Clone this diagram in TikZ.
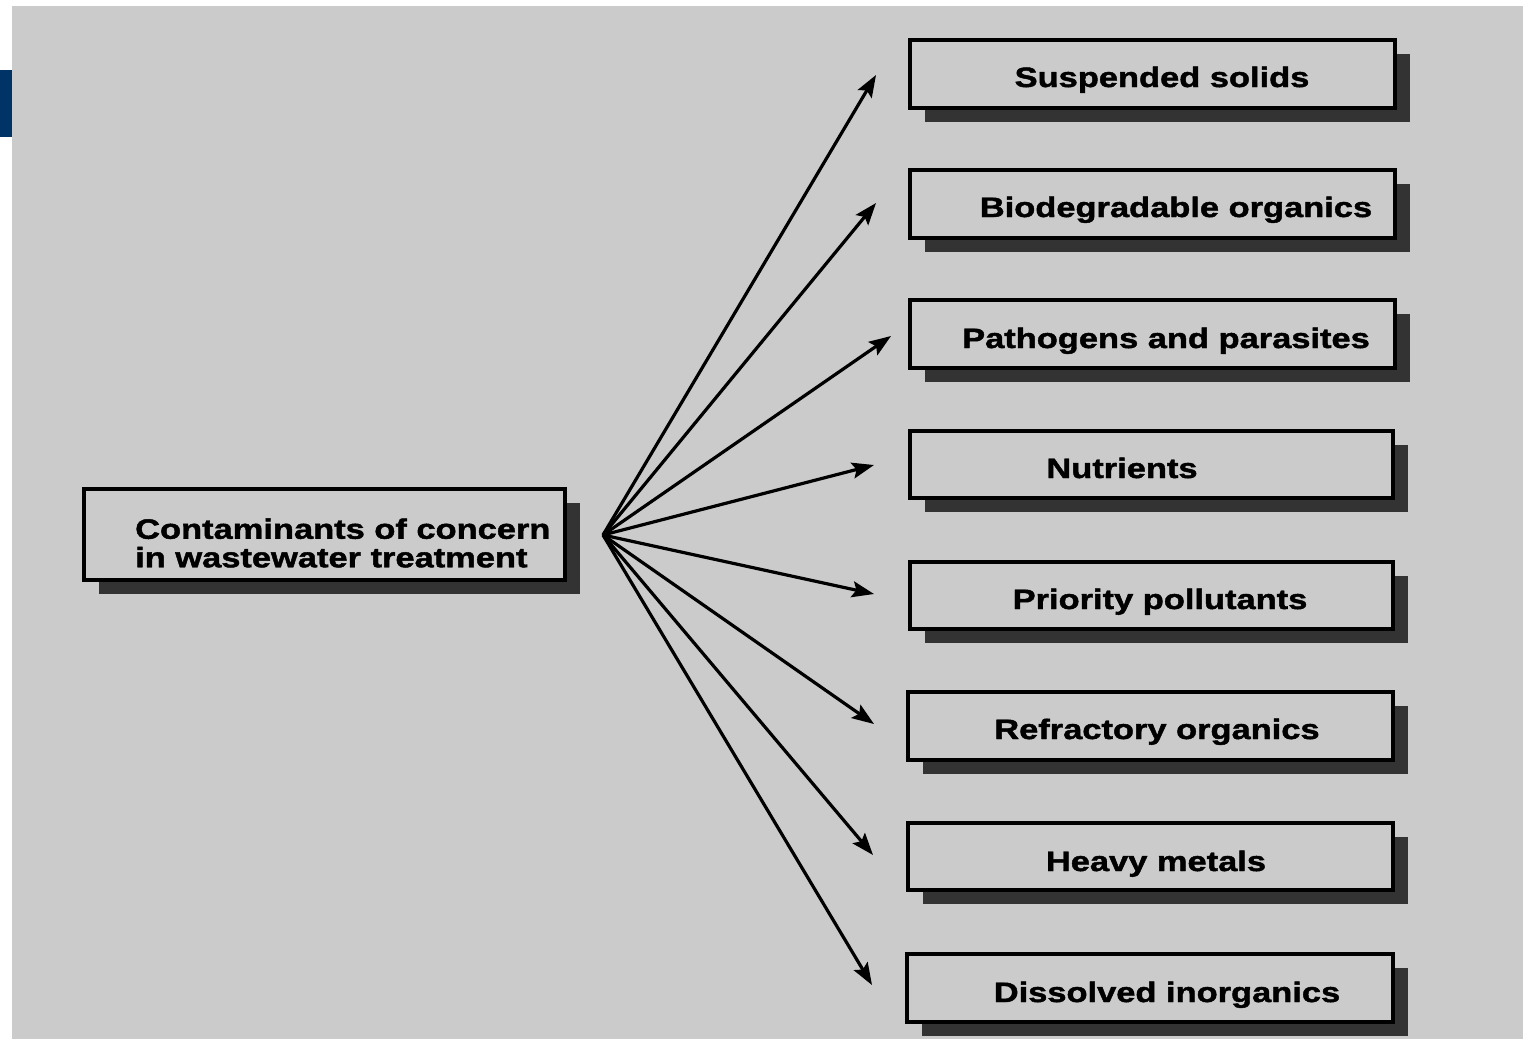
\documentclass[tikz,border=0pt]{standalone}
\usepackage{fontspec}
\newfontfamily\boxfont{Liberation Sans}[FakeStretch=1.23,FakeBold=1.6]
\usetikzlibrary{arrows.meta,shadows}
\definecolor{bggray}{HTML}{CBCBCB}
\definecolor{barblue}{HTML}{003366}
\tikzset{
  cbox/.style={draw=black, line width=3.6pt, fill=bggray, inner sep=0pt,
    drop shadow={shadow xshift=15pt, shadow yshift=-14pt, fill=black!80, opacity=1}},
  ctext/.style={font=\boxfont\bfseries\fontsize{28}{29}\selectfont, inner sep=0pt, anchor=base},
  carrow/.style={line width=3.2pt, -{Stealth[length=22pt,width=16pt,inset=4pt]}}
}
\begin{document}
\begin{tikzpicture}[x=1pt,y=-1pt]
\useasboundingbox (0,0) rectangle (1523,1039);
\fill[white] (0,0) rectangle (1523,1039);
\fill[bggray] (12,6) rectangle (1523,1039);
\fill[barblue] (0,70) rectangle (12,137);

% source box
\node[cbox, minimum width=481pt, minimum height=91pt] (src) at (324.5,534.5) {};
\node[font=\boxfont\bfseries\fontsize{28}{28.5}\selectfont, inner sep=0pt, anchor=west, align=left] (srct) at (135,543)
  {Contaminants of concern\\in wastewater treatment};

% target boxes
\node[cbox, minimum width=485pt, minimum height=68pt] (b1) at (1152.5,74) {};
\node[cbox, minimum width=485pt, minimum height=68pt] (b2) at (1152.5,204) {};
\node[cbox, minimum width=485pt, minimum height=68pt] (b3) at (1152.5,334) {};
\node[cbox, minimum width=483pt, minimum height=67pt] (b4) at (1151.5,464.5) {};
\node[cbox, minimum width=483pt, minimum height=67pt] (b5) at (1151.5,595.5) {};
\node[cbox, minimum width=485pt, minimum height=68pt] (b6) at (1150.5,726) {};
\node[cbox, minimum width=485pt, minimum height=67pt] (b7) at (1150.5,856.5) {};
\node[cbox, minimum width=486pt, minimum height=68pt] (b8) at (1150,988) {};

\node[ctext] (t1) at (1162,87) {Suspended solids};
\node[ctext] (t2) at (1176,217) {Biodegradable organics};
\node[ctext] (t3) at (1166,348) {Pathogens and parasites};
\node[ctext] (t4) at (1122,478) {Nutrients};
\node[ctext] (t5) at (1160,609) {Priority pollutants};
\node[ctext] (t6) at (1157,739) {Refractory organics};
\node[ctext] (t7) at (1156,871) {Heavy metals};
\node[ctext] (t8) at (1167,1002) {Dissolved inorganics};

% hub and arrow tips
\coordinate (hub) at (603,535);
\coordinate (p1) at (876,75);
\coordinate (p2) at (876,203);
\coordinate (p3) at (891,336);
\coordinate (p4) at (874,465);
\coordinate (p5) at (874,594);
\coordinate (p6) at (874,724);
\coordinate (p7) at (873,855);
\coordinate (p8) at (872,985);

\foreach \i in {1,...,8} {
  \draw[carrow] (hub) -- (p\i);
}
\end{tikzpicture}
\end{document}
